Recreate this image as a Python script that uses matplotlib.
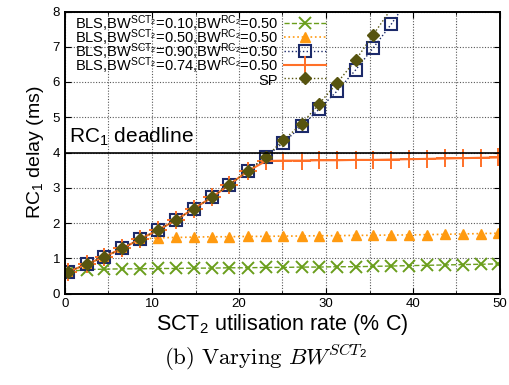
import numpy as np
import matplotlib.pyplot as plt
from matplotlib.ticker import MultipleLocator

plt.rcParams['font.family'] = ['Liberation Sans', 'DejaVu Sans']
plt.rcParams['mathtext.fontset'] = 'custom'
plt.rcParams['mathtext.rm'] = 'Liberation Sans'
plt.rcParams['mathtext.it'] = 'Liberation Sans:italic'
plt.rcParams['mathtext.bf'] = 'Liberation Sans:bold'
plt.rcParams['mathtext.default'] = 'regular'

# SCT2 utilisation (% C)
util = [0.4, 2.5, 4.5, 6.6, 8.6, 10.7, 12.8, 14.8, 16.9, 18.9, 21.0, 23.1, 25.1,
        27.2, 29.2, 31.3, 33.4, 35.4, 37.5, 39.5, 41.6, 43.7, 45.7, 47.8, 49.8]

# RC1 delay (ms)
bw010 = [0.62, 0.68, 0.69, 0.70, 0.70, 0.71, 0.71, 0.72, 0.72, 0.73, 0.73, 0.74, 0.74,
         0.75, 0.75, 0.76, 0.76, 0.77, 0.78, 0.79, 0.80, 0.81, 0.82, 0.83, 0.84]
bw050 = [0.62, 0.83, 1.04, 1.28, 1.54, 1.58, 1.59, 1.60, 1.61, 1.61, 1.62, 1.62, 1.63,
         1.63, 1.64, 1.64, 1.65, 1.65, 1.66, 1.66, 1.67, 1.68, 1.69, 1.70, 1.71]
bw090 = [0.62, 0.83, 1.04, 1.28, 1.54, 1.80, 2.09, 2.41, 2.73, 3.09, 3.47, 3.88, 4.28,
         4.75, 5.23, 5.75, 6.34, 6.96, 7.64, 8.36]
bw074 = [0.62, 0.83, 1.04, 1.28, 1.54, 1.80, 2.09, 2.41, 2.73, 3.09, 3.47, 3.76, 3.77,
         3.77, 3.78, 3.78, 3.79, 3.79, 3.80, 3.81, 3.82, 3.83, 3.84, 3.85, 3.86]
sp = [0.62, 0.83, 1.04, 1.28, 1.54, 1.80, 2.09, 2.41, 2.73, 3.09, 3.47, 3.88, 4.35,
      4.81, 5.38, 5.98, 6.62, 7.33, 8.08]

deadline = 4.0

labels = [r'BLS,BW$^{SCT_2}$=0.10,BW$^{RC_2}$=0.50',
          r'BLS,BW$^{SCT_2}$=0.50,BW$^{RC_2}$=0.50',
          r'BLS,BW$^{SCT_2}$=0.90,BW$^{RC_2}$=0.50',
          r'BLS,BW$^{SCT_2}$=0.74,BW$^{RC_2}$=0.50',
          'SP']

W, H = 510, 385
fig = plt.figure(figsize=(W / 100, H / 100), dpi=100)
ax_l, ax_r, ax_t, ax_b = 65, 500, 11.5, 293.5
ax = fig.add_axes([ax_l / W, 1 - ax_b / H, (ax_r - ax_l) / W, (ax_b - ax_t) / H])

styles = [
    dict(color='#6a9e1c', ls='--', lw=1.0, marker='x', ms=8, mew=1.4),
    dict(color='#ff9a10', ls=':', lw=1.2, marker='^', ms=7),
    dict(color='#1c2a6a', ls=':', lw=1.0, marker='s', ms=9, mew=1.5, mfc='none'),
    dict(color='#ff7028', ls='-', lw=1.5, marker='+', ms=13, mew=1.4),
    dict(color='#57540f', ls=':', lw=1.0, marker='D', ms=6),
]
series = [bw010, bw050, bw090, bw074, sp]

for ys, st in zip(series, styles):
    n = len(ys)
    ax.plot(util[:n], ys, markevery=[i for i in range(n) if ys[i] <= 8], **st)

ax.axhline(deadline, color='black', lw=1.2)
ax.text(0.5, deadline + 0.12, r'RC$_1$ deadline', fontsize=15, va='bottom')

# legend, gnuplot style: text right-aligned, sample to the right
def px2ax(px, py):
    return (px - ax_l) / (ax_r - ax_l), 1 - (py - ax_t) / (ax_b - ax_t)

for i, (lab, st) in enumerate(zip(labels, styles)):
    base = 29.3 + 13.9 * i
    tx, ty = px2ax(278, base)
    ax.text(tx, ty, lab, transform=ax.transAxes, ha='right', va='baseline',
            fontsize=10.5)
    x0, ym = px2ax(284, base - 6.5)
    x1, _ = px2ax(326, base - 6.5)
    ax.plot([x0, x1], [ym, ym], transform=ax.transAxes, clip_on=False,
            **{k: v for k, v in st.items() if k not in ('marker', 'ms', 'mew', 'mfc')})
    ax.plot([(x0 + x1) / 2], [ym], transform=ax.transAxes, clip_on=False,
            ls='none', **{k: v for k, v in st.items() if k not in ('ls', 'lw')})

ax.set_xlim(0, 50)
ax.set_ylim(0, 8)
ax.xaxis.set_major_locator(MultipleLocator(10))
ax.xaxis.set_minor_locator(MultipleLocator(5))
ax.yaxis.set_major_locator(MultipleLocator(1))
ax.grid(True, which='both', color='0.35', ls=(0, (1, 1.5)), lw=0.8)
ax.tick_params(which='both', direction='in', top=True, right=True, labelsize=9.5)
ax.tick_params(which='major', length=4)
ax.tick_params(which='minor', length=2)
for s in ax.spines.values():
    s.set_linewidth(1.4)

ax.set_xlabel(r'SCT$_2$ utilisation rate (% C)', fontsize=15.5, labelpad=1)
ax.set_ylabel(r'RC$_1$ delay (ms)', fontsize=14, labelpad=5)

fig.text(0.52, 0.07, r'$\mathrm{(b)\ Varying}\ \mathit{BW}^{\mathit{SCT}_2}$',
         fontsize=16.5, ha='center', va='center', math_fontfamily='cm')

fig.savefig('out.png', dpi=100)
